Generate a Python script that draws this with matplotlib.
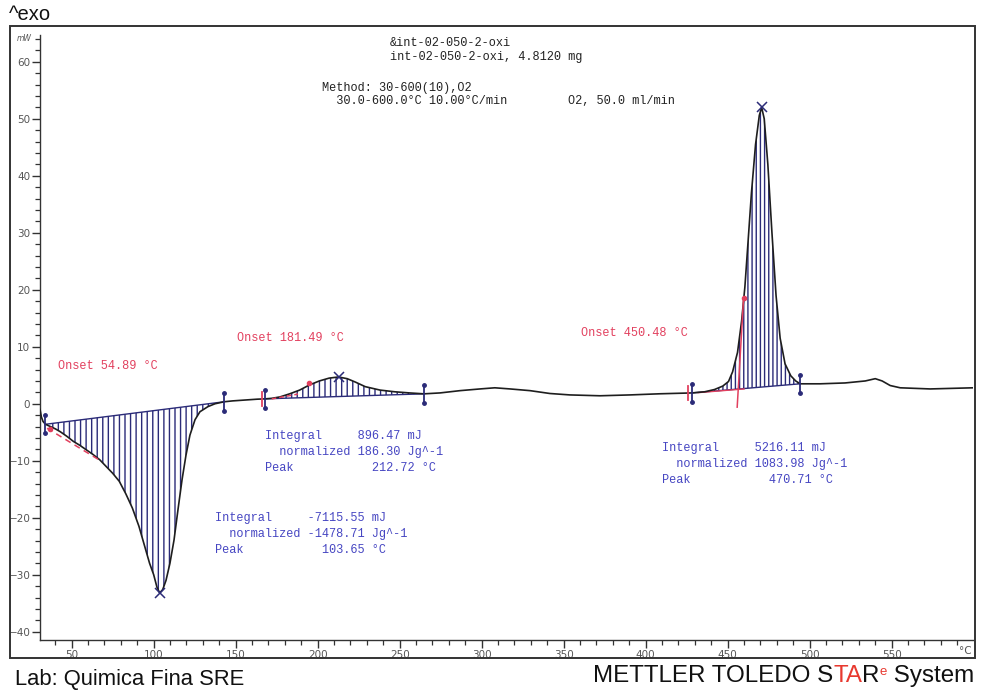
import numpy as np
import matplotlib
matplotlib.use("Agg")
import matplotlib.pyplot as plt
from matplotlib.patches import Rectangle
from matplotlib.ticker import MultipleLocator

# DSC run: sample temperature (°C) and heat flow (mW), exo up
temp = [30.7, 31.5, 32.5, 34.0, 37.0, 40.0, 43.0, 47.0, 51.0, 55.0, 59.0, 63.0,
        67.0, 71.0, 75.0, 79.0, 83.0, 87.0, 91.0, 94.5, 97.5, 100.0, 102.0, 103.65,
        105.5, 107.5, 109.9, 112.4, 114.8, 117.3, 119.7, 122.1, 125.2, 128.2, 133.1,
        137.4, 143.0, 148.0, 153.0, 158.0, 163.0, 167.9, 172.0, 177.0, 183.0, 189.0,
        195.0, 201.0, 207.0, 212.72, 218.0, 223.0, 229.0, 238.0, 247.0, 256.0, 264.8,
        274.6, 286.8, 299.0, 308.0, 317.3, 329.5, 341.6, 353.8, 372.1, 390.4, 408.7,
        428.2, 436.0, 442.0, 447.0, 450.5, 453.0, 456.0, 458.5, 460.5, 462.5, 464.5,
        467.0, 469.3, 470.71, 472.3, 474.5, 477.0, 479.5, 482.0, 485.0, 488.5, 491.5,
        494.2, 506.4, 521.6, 533.9, 540.0, 544.2, 549.1, 555.2, 573.5, 599.6]
heat_flow = [-1.0, -2.3, -3.1, -3.6, -4.0, -4.4, -4.9, -5.7, -6.6, -7.3, -8.1, -8.9,
             -9.8, -11.0, -12.2, -13.6, -15.8, -18.3, -21.5, -25.0, -28.0, -30.0, -32.2, -33.2,
             -32.6, -31.0, -28.0, -23.9, -18.6, -13.3, -9.0, -5.5, -2.8, -1.4, -0.5,
             0.0, 0.35, 0.5, 0.6, 0.7, 0.8, 0.86, 0.95, 1.2, 1.75, 2.4,
             3.3, 4.0, 4.5, 4.7, 4.4, 3.8, 3.0, 2.4, 2.1, 1.9, 1.74,
             1.9, 2.3, 2.6, 2.8, 2.6, 2.3, 1.8, 1.55, 1.4, 1.55, 1.75,
             1.9, 2.1, 2.5, 3.1, 3.9, 5.6, 9.0, 14.5, 20.5, 28.7, 37.0,
             45.5, 50.6, 52.0, 50.0, 42.0, 30.0, 19.0, 11.5, 7.0, 4.9, 4.0,
             3.5, 3.5, 3.65, 4.0, 4.4, 4.0, 3.2, 2.8, 2.6, 2.8]

# evaluated effects
limit_lo = [34.0, 167.9, 428.2]
limit_hi = [143.0, 264.8, 494.2]
peak_temp = [103.65, 212.72, 470.71]
peak_flow = [-33.2, 4.7, 52.0]
onset_temp = [54.89, 181.49, 450.48]
integral_mj = [-7115.55, 896.47, 5216.11]
normalized_jg = [-1478.71, 186.30, 1083.98]

hatches = ["|||", "|||", "||||"]
onset_pos = [(41.6, 6.65), (150.8, 11.55), (360.5, 12.4)]
result_pos = [(137.5, -22.8), (167.9, -8.4), (410.0, -10.5)]

NAVY = "#2b2b78"
BLUE = "#4646c2"
RED = "#e2405e"
MONO = "Liberation Mono"
MONO_SIZE = 8.6

T = np.array(temp)
Q = np.array(heat_flow)

fig = plt.figure(figsize=(9.83, 6.93), dpi=100)
ax = fig.add_axes([40 / 983, 1 - 640 / 693, 933 / 983, 605 / 693])
ax.set_xlim(30.67, 599.6)
ax.set_ylim(-41.45, 64.7)

# outer frame of the printout
fig.patches.append(Rectangle((10 / 983, 1 - 658 / 693), 965 / 983, 632 / 693,
                             transform=fig.transFigure, fill=False,
                             edgecolor="#333333", lw=1.4))

ax.plot(T, Q, color="#1e1e1e", lw=1.2, zorder=4)

for i in range(3):
    a, b = limit_lo[i], limit_hi[i]
    ya = np.interp(a, T, Q)
    yb = np.interp(b, T, Q)
    m = (T >= a) & (T <= b)
    base = ya + (T[m] - a) * (yb - ya) / (b - a)
    ax.fill_between(T[m], Q[m], base, facecolor="none", edgecolor=NAVY,
                    hatch=hatches[i], lw=0, zorder=2)
    ax.plot([a, b], [ya, yb], color=NAVY, lw=1.0, zorder=3)
    # integration limit markers
    for t, y in ((a, ya), (b, yb)):
        ax.plot([t, t], [y - 1.6, y + 1.6], color=NAVY, lw=1.3, zorder=5)
        ax.plot([t, t], [y - 1.6, y + 1.6], ls="none", marker="o", ms=2.5,
                color=NAVY, zorder=5)
    ax.plot(peak_temp[i], peak_flow[i], marker="x", ms=7, mew=1.1,
            color=NAVY, zorder=6)

    ax.text(*onset_pos[i], f"Onset {onset_temp[i]:.2f} °C", color=RED,
            family=MONO, fontsize=MONO_SIZE, ha="left", va="center")
    block = (f"Integral     {integral_mj[i]:.2f} mJ\n"
             f"  normalized {normalized_jg[i]:.2f} Jg^-1\n"
             f"Peak           {peak_temp[i]:.2f} °C")
    ax.text(*result_pos[i], block, color=BLUE, family=MONO, fontsize=MONO_SIZE,
            ha="left", va="center", linespacing=1.45)

# onset tangents
ax.plot([35.0, 67.0], [-4.3, -9.9], color=RED, lw=1.1, ls=(0, (4, 3)), zorder=5)
ax.plot([37.0], [-4.5], marker="o", ms=3, color=RED, zorder=5)
ax.plot([172.0, 188.0], [0.85, 1.7], color=RED, lw=1.1, ls=(0, (3, 2)), zorder=5)
ax.plot([195.0], [3.6], marker="o", ms=3, color=RED, zorder=5)
ax.plot([432.0, 460.0], [1.95, 2.6], color=RED, lw=1.0, zorder=3)
ax.plot([455.8, 459.7], [-0.6, 18.5], color=RED, lw=1.1, zorder=5)
ax.plot([459.7], [18.5], marker="o", ms=3, color=RED, zorder=5)
for t, y in ((166.0, 0.85), (426.0, 1.9)):
    ax.plot([t, t], [y - 1.2, y + 1.2], color=RED, lw=1.3, zorder=5)

# axes styling
for s in ("top", "right"):
    ax.spines[s].set_visible(False)
for s in ("left", "bottom"):
    ax.spines[s].set_color("#333333")
    ax.spines[s].set_linewidth(1.0)
ax.xaxis.set_minor_locator(MultipleLocator(10))
ax.yaxis.set_major_locator(MultipleLocator(10))
ax.yaxis.set_minor_locator(MultipleLocator(2))
ax.set_xticks(np.arange(50, 551, 50))
ax.tick_params(which="major", direction="out", length=6, width=1.0,
               color="#333333", labelsize=7.5, labelcolor="#555555", pad=1)
ax.tick_params(which="minor", direction="out", length=3.5, width=0.9,
               color="#333333")
for lab in ax.get_xticklabels() + ax.get_yticklabels():
    lab.set_family(["Liberation Sans Narrow", "DejaVu Sans"])
ax.annotate("mW", xy=(0, 64), xycoords=("axes fraction", "data"),
            xytext=(-6, 0), textcoords="offset points", ha="right",
            va="center", fontsize=5.5, style="italic", color="#555555")
ax.annotate("°C", xy=(1, 0), xycoords="axes fraction", xytext=(-1, -8),
            textcoords="offset points", ha="right", va="center",
            fontsize=7.5, color="#555555")

# run header
hdr = dict(family=MONO, fontsize=MONO_SIZE, color="#222222", ha="left",
           va="center")
fig.text(390 / 983, 1 - 43 / 693, "&int-02-050-2-oxi", **hdr)
fig.text(390 / 983, 1 - 57 / 693, "int-02-050-2-oxi, 4.8120 mg", **hdr)
fig.text(322 / 983, 1 - 88 / 693, "Method: 30-600(10),O2", **hdr)
fig.text(322 / 983, 1 - 101 / 693, "  30.0-600.0°C 10.00°C/min", **hdr)
fig.text(568 / 983, 1 - 101 / 693, "O2, 50.0 ml/min", **hdr)

sans = "Liberation Sans"
fig.text(9 / 983, 1 - 15 / 693, "^exo", family=sans, fontsize=14.5,
         ha="left", va="center", color="#111111")
fig.text(15 / 983, 1 - 679 / 693, "Lab: Quimica Fina SRE", family=sans,
         fontsize=15.8, ha="left", va="center", color="#111111")

# vendor line, pieces chained left to right
VSIZE = 17.4
t1 = fig.text(593 / 983, 1 - 687 / 693, "METTLER TOLEDO S", family=sans,
              fontsize=VSIZE, ha="left", va="bottom", color="#111111")
kw = dict(family=sans, ha="left", va="bottom", textcoords="offset points",
          xytext=(0, 0))
t2 = fig.add_artist(plt.Annotation("TA", xy=(1, 0), xycoords=t1, fontsize=VSIZE,
                                   color="#e8392f", **kw))
t3 = fig.add_artist(plt.Annotation("R", xy=(1, 0), xycoords=t2, fontsize=VSIZE,
                                   color="#111111", **kw))
t4 = fig.add_artist(plt.Annotation("e", xy=(1, 0.42), xycoords=t3, fontsize=9.5,
                                   color="#e8392f", **kw))
fig.add_artist(plt.Annotation(" System", xy=(1, 0), xycoords=(t4, t3),
                              fontsize=VSIZE, color="#111111", **kw))

fig.savefig("out.png", dpi=100)
